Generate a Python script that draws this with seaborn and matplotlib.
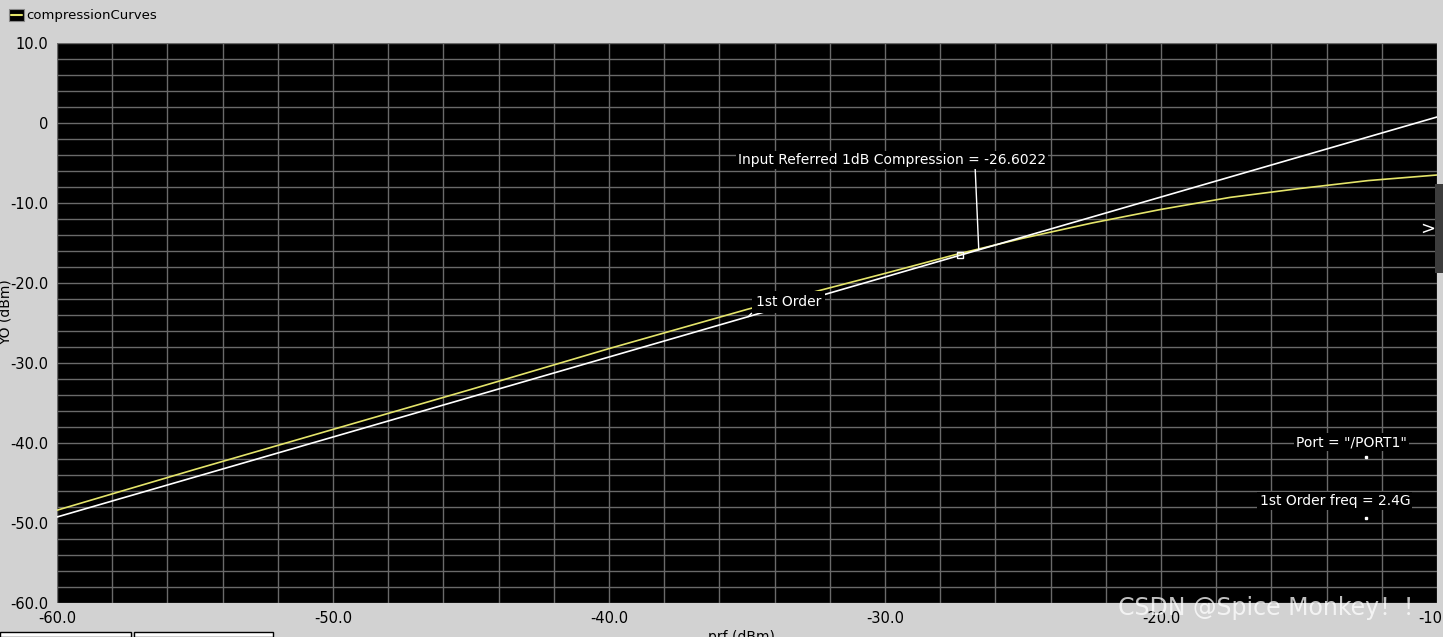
import numpy as np
import pandas as pd
import matplotlib
matplotlib.use("Agg")
import matplotlib.pyplot as plt
from matplotlib.patches import Rectangle
from matplotlib.lines import Line2D
import seaborn as sns

# input power sweep (dBm) and read-off output levels (dBm)
prf = [-60, -55, -50, -45, -40, -35, -30, -27.5, -25, -22.5, -20, -17.5, -15, -12.5, -10]
compression = [-48.4, -43.3, -38.3, -33.3, -28.2, -23.3, -18.8, -16.5, -14.4, -12.5,
               -10.8, -9.3, -8.2, -7.2, -6.5]
first_order = [-49.25, -44.25, -39.25, -34.25, -29.25, -24.25, -19.25, -16.75, -14.25,
               -11.75, -9.25, -6.75, -4.25, -1.75, 0.75]

p1db = -26.6022
p1db_label = "Input Referred 1dB Compression = -26.6022"

xticks = [-60, -50, -40, -30, -20, -10]
xtick_labels = ["-60.0", "-50.0", "-40.0", "-30.0", "-20.0", "-10.0"]
yticks = [10, 0, -10, -20, -30, -40, -50, -60]
ytick_labels = ["10.0", "0", "-10.0", "-20.0", "-30.0", "-40.0", "-50.0", "-60.0"]

df = pd.DataFrame({"prf": prf + prf,
                   "YO": compression + first_order,
                   "curve": ["compression"] * len(prf) + ["1st Order"] * len(prf)})

sns.set_style("dark")
plt.rcParams['font.family'] = ['DejaVu Sans', 'Noto Sans CJK SC']

bg = "#d2d2d2"
grid_c = "#6a6a6a"
fig = plt.figure(figsize=(14.43, 6.37), dpi=100, facecolor=bg)
ax = fig.add_axes([57 / 1443, 34 / 637, 1380 / 1443, 560 / 637])
ax.set_facecolor("black")

sns.lineplot(data=df, x="prf", y="YO", hue="curve",
             palette={"compression": "#e4e46a", "1st Order": "white"},
             linewidth=1.2, legend=False, ax=ax, zorder=3)

ax.set_xlim(-60, -10)
ax.set_ylim(-60, 10)
ax.set_xticks(xticks)
ax.set_xticklabels(xtick_labels)
ax.set_yticks(yticks)
ax.set_yticklabels(ytick_labels)
ax.set_xticks(np.arange(-60, -9, 2), minor=True)
ax.set_yticks(np.arange(-60, 11, 2), minor=True)
ax.grid(True, which="both", color=grid_c, linewidth=1.0)
ax.tick_params(which="both", direction="out", color=grid_c, length=5, width=1,
               labelsize=10.5, labelcolor="black", pad=1)
ax.tick_params(axis="y", which="minor", length=0)
ax.set_xlabel("")
ax.set_ylabel("")
for s in ax.spines.values():
    s.set_visible(False)

# annotations
y_p1db = np.interp(p1db, prf, first_order)
ax.annotate(p1db_label, xy=(p1db, y_p1db), xytext=(-29.75, -4.6),
            ha="center", va="center", color="white", fontsize=10, zorder=5,
            bbox=dict(boxstyle="square,pad=0.15", fc="black", ec="none"),
            arrowprops=dict(arrowstyle="-", color="white", lw=1, relpos=(0.77, 0),
                            shrinkA=0, shrinkB=0))
ax.plot([-27.3], [np.interp(-27.3, prf, first_order)], marker="s", ms=4,
        mfc="none", mec="white", zorder=6)

ax.annotate("1st Order", xy=(-34.96, np.interp(-34.96, prf, first_order)),
            xytext=(-33.5, -22.4), ha="center", va="center", color="white",
            fontsize=10, zorder=5,
            bbox=dict(boxstyle="square,pad=0.3", fc="black", ec="none"),
            arrowprops=dict(arrowstyle="-", color="white", lw=1, relpos=(0, 0),
                            shrinkA=0, shrinkB=0))

ax.text(-13.1, -39.9, 'Port = "/PORT1"', ha="center", va="center", color="white",
        fontsize=10, zorder=5, bbox=dict(boxstyle="square,pad=0.15", fc="black", ec="none"))
ax.plot([-12.57], [-41.75], marker="s", ms=1.5, color="white", zorder=6)
ax.text(-13.7, -47.25, "1st Order freq = 2.4G", ha="center", va="center", color="white",
        fontsize=10, zorder=5, bbox=dict(boxstyle="square,pad=0.15", fc="black", ec="none"))
ax.plot([-12.57], [-49.4], marker="s", ms=1.5, color="white", zorder=6)

# legend-like header
fig.add_artist(Rectangle((9 / 1443, 1 - 21 / 637), 15 / 1443, 12 / 637,
                         transform=fig.transFigure, fc="black", ec="#888888", lw=0.8))
fig.add_artist(Line2D([11 / 1443, 22 / 1443], [1 - 15 / 637] * 2,
                      transform=fig.transFigure, color="#e4e46a", lw=1.5))
fig.text(26 / 1443, 1 - 15 / 637, "compressionCurves", ha="left", va="center",
         fontsize=9.5, color="black")

# axis titles (partly cut by the window)
fig.text(6 / 1443, 1 - 312 / 637, "YO (dBm)", rotation=90, ha="center", va="center",
         fontsize=10, color="black")
fig.text(741 / 1443, 0.0, "prf (dBm)", ha="center", va="center", fontsize=10, color="black")

# bottom tabs
fig.add_artist(Rectangle((0, 0), 131 / 1443, 5 / 637, transform=fig.transFigure,
                         fc="white", ec="black", lw=1))
fig.add_artist(Rectangle((134 / 1443, 0), 139 / 1443, 5 / 637, transform=fig.transFigure,
                         fc="white", ec="black", lw=1))

# right side scroll tab
fig.add_artist(Rectangle((1435 / 1443, 1 - 273 / 637), 8 / 1443, 89 / 637,
                         transform=fig.transFigure, fc="#3c3c3c", ec="none"))
fig.text(1428 / 1443, 1 - 229 / 637, ">", ha="center", va="center", fontsize=13,
         color="white")

# watermark
fig.text(1272 / 1443, 1 - 608 / 637, "CSDN @Spice Monkey！！", ha="center", va="center",
         fontsize=17, color="white", alpha=0.75)

fig.savefig("out.png", dpi=100, facecolor=bg)
